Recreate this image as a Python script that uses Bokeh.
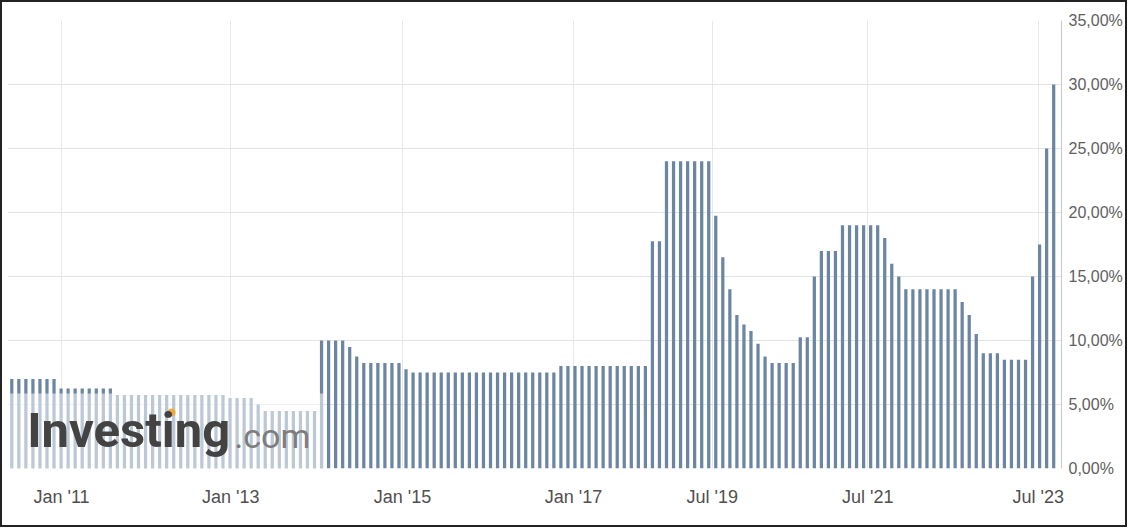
from bokeh.plotting import figure
from bokeh.models import FixedTicker, CustomJSTickFormatter, Range1d, ColumnDataSource, Label
from bokeh.embed import file_html
from bokeh.resources import INLINE

# Policy rate at each meeting (%), oldest first (May 2010 .. Sep 2023)
rates = [
    7.00, 7.00, 7.00, 7.00, 7.00, 7.00, 7.00,
    6.25, 6.25, 6.25, 6.25, 6.25, 6.25, 6.25, 6.25,
    5.75, 5.75, 5.75, 5.75, 5.75, 5.75, 5.75, 5.75,
    5.75, 5.75, 5.75, 5.75, 5.75, 5.75, 5.75, 5.75,
    5.50, 5.50, 5.50, 5.50,
    5.00,
    4.50, 4.50, 4.50, 4.50, 4.50, 4.50, 4.50, 4.50,
    10.00, 10.00, 10.00, 10.00,
    9.50, 8.75,
    8.25, 8.25, 8.25, 8.25, 8.25, 8.25,
    7.75,
    7.50, 7.50, 7.50, 7.50, 7.50, 7.50, 7.50, 7.50, 7.50, 7.50, 7.50,
    7.50, 7.50, 7.50, 7.50, 7.50, 7.50, 7.50, 7.50, 7.50, 7.50,
    8.00, 8.00, 8.00, 8.00, 8.00, 8.00, 8.00, 8.00, 8.00, 8.00, 8.00, 8.00, 8.00,
    17.75, 17.75,
    24.00, 24.00, 24.00, 24.00, 24.00, 24.00, 24.00,
    19.75, 16.50, 14.00, 12.00, 11.25, 10.75, 9.75, 8.75,
    8.25, 8.25, 8.25, 8.25,
    10.25, 10.25,
    15.00,
    17.00, 17.00, 17.00,
    19.00, 19.00, 19.00, 19.00, 19.00, 19.00,
    18.00, 16.00, 15.00,
    14.00, 14.00, 14.00, 14.00, 14.00, 14.00, 14.00, 14.00,
    13.00, 12.00, 10.50,
    9.00, 9.00, 9.00,
    8.50, 8.50, 8.50, 8.50,
    15.00, 17.50, 25.00, 30.00,
]

# x-axis labels and their positions (in meeting-index units)
tick_labels = ["Jan '11", "Jan '13", "Jan '15", "Jan '17", "Jul '19", "Jul '21", "Jul '23"]
tick_positions = [7.06, 31.1, 55.5, 79.8, 99.5, 121.6, 145.8]

y_ticks = [0, 5, 10, 15, 20, 25, 30, 35]

meeting_index = list(range(len(rates)))
src = ColumnDataSource(dict(x=meeting_index, y=rates))

W, H = 1127, 527
p = figure(width=W, height=H, output_backend="svg", toolbar_location=None,
           y_axis_location="right",
           x_range=Range1d(-0.61, 149.11), y_range=Range1d(0, 35),
           min_border_left=5, min_border_right=68, min_border_top=18, min_border_bottom=61)
p.styles = {"border": "2px solid #222222"}
p.background_fill_color = "white"
p.border_fill_color = "white"
p.outline_line_color = None

# grids
p.xaxis.ticker = FixedTicker(ticks=tick_positions)
p.yaxis.ticker = FixedTicker(ticks=y_ticks)
p.xgrid.grid_line_color = "#e8e8e8"
p.ygrid.grid_line_color = "#e3e3e3"

# bars
p.vbar(x="x", top="y", bottom=0, width=0.46, source=src,
       fill_color="#6b85a2", line_color=None)

# watermark wash over the lower-left bars
p.quad(left=-0.61, right=44.3, bottom=0, top=5.86,
       fill_color="white", fill_alpha=0.55, line_color=None)

# watermark logo
p.add_layout(Label(x=2.2, y=0.74, text="Investing", text_font="Roboto",
                   text_font_style="bold", text_font_size="49px",
                   text_color="#434343", text_baseline="bottom"))
p.add_layout(Label(x=31.6, y=0.94, text=".com", text_font="Roboto",
                   text_font_size="34px", text_color="#7d7d7d",
                   text_baseline="bottom"))
p.scatter(x=[22.69], y=[4.38], marker="circle", size=8,
          fill_color="#f2a72e", line_color=None, fill_alpha=0.9)

# axes
fmt_x = CustomJSTickFormatter(args=dict(pos=tick_positions, lab=tick_labels), code="""
    let best = 0, bd = 1e9;
    for (let i = 0; i < pos.length; i++) {
        const d = Math.abs(pos[i] - tick);
        if (d < bd) { bd = d; best = i; }
    }
    return lab[best];
""")
p.xaxis.formatter = fmt_x
p.yaxis.formatter = CustomJSTickFormatter(code="""
    return tick.toFixed(2).replace('.', ',') + '%';
""")
for ax in (p.xaxis, p.yaxis):
    ax.major_tick_line_color = None
    ax.minor_tick_line_color = None
    ax.major_tick_out = 0
    ax.major_tick_in = 0
    ax.major_label_text_font = "Liberation Sans"
p.xaxis.axis_line_color = None
p.xaxis.major_label_text_font_size = "18px"
p.xaxis.major_label_text_color = "#505050"
p.xaxis.major_label_standoff = 18
p.yaxis.axis_line_color = "#c8c8c8"
p.yaxis.major_label_text_font_size = "16px"
p.yaxis.major_label_text_color = "#606060"
p.yaxis.major_label_standoff = 7

open("out.html", "w").write(file_html(p, INLINE))
